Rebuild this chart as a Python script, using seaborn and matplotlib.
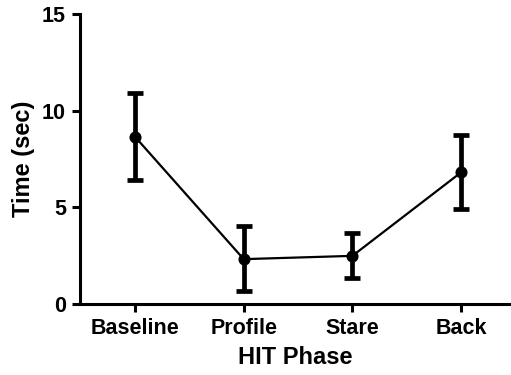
import numpy as np
import pandas as pd
import matplotlib
matplotlib.use("Agg")
import matplotlib.pyplot as plt
import seaborn as sns

# Mean time per HIT phase with error-bar limits
phases = ["Baseline", "Profile", "Stare", "Back"]
mean_time = [8.65, 2.32, 2.49, 6.81]
err_low = [6.41, 0.66, 1.37, 4.89]
err_high = [10.93, 4.03, 3.65, 8.74]
y_ticks = [0, 5, 10, 15]

df = pd.DataFrame({"phase": phases, "time": mean_time})

sns.set_style("ticks")
plt.rcParams["font.family"] = ["Liberation Sans", "DejaVu Sans"]
plt.rcParams["font.weight"] = "bold"
plt.rcParams["text.color"] = "black"
plt.rcParams["axes.labelcolor"] = "black"
plt.rcParams["xtick.color"] = "black"
plt.rcParams["ytick.color"] = "black"

fig = plt.figure(figsize=(5.11, 3.75), dpi=100)
ax = fig.add_axes([80 / 511, 71 / 375, 431 / 511, 290 / 375])

xpos = np.arange(len(phases))
lower = np.array(mean_time) - np.array(err_low)
upper = np.array(err_high) - np.array(mean_time)
ax.errorbar(xpos, mean_time, yerr=[lower, upper], fmt="none",
            ecolor="black", elinewidth=3.4, capsize=6, capthick=3.4, zorder=2)

sns.pointplot(data=df, x="phase", y="time", order=phases, errorbar=None,
              color="black", markers="o", linestyles="-", ax=ax,
              markersize=7.5, linewidth=1.6, zorder=3)

ax.set_xlim(-0.506, 3.459)
ax.set_ylim(0, 15)
ax.set_yticks(y_ticks)
ax.set_yticklabels([str(t) for t in y_ticks])
ax.set_xticks(xpos)
ax.set_xticklabels(phases)

for side in ["top", "right"]:
    ax.spines[side].set_visible(False)
for side in ["left", "bottom"]:
    ax.spines[side].set_linewidth(2.2)
    ax.spines[side].set_color("black")
ax.spines["bottom"].set_capstyle("projecting")
ax.spines["left"].set_capstyle("projecting")

ax.tick_params(axis="both", width=2.2, length=6, color="black",
               labelcolor="black", labelsize=15.5, pad=4)
for lbl in ax.get_xticklabels() + ax.get_yticklabels():
    lbl.set_fontweight("bold")

ax.set_xlabel("HIT Phase", fontsize=17, fontweight="bold", labelpad=5,
              color="black")
ax.set_ylabel("Time (sec)", fontsize=17, fontweight="bold", labelpad=5,
              color="black")

fig.savefig("out.png", dpi=100, facecolor="white")
